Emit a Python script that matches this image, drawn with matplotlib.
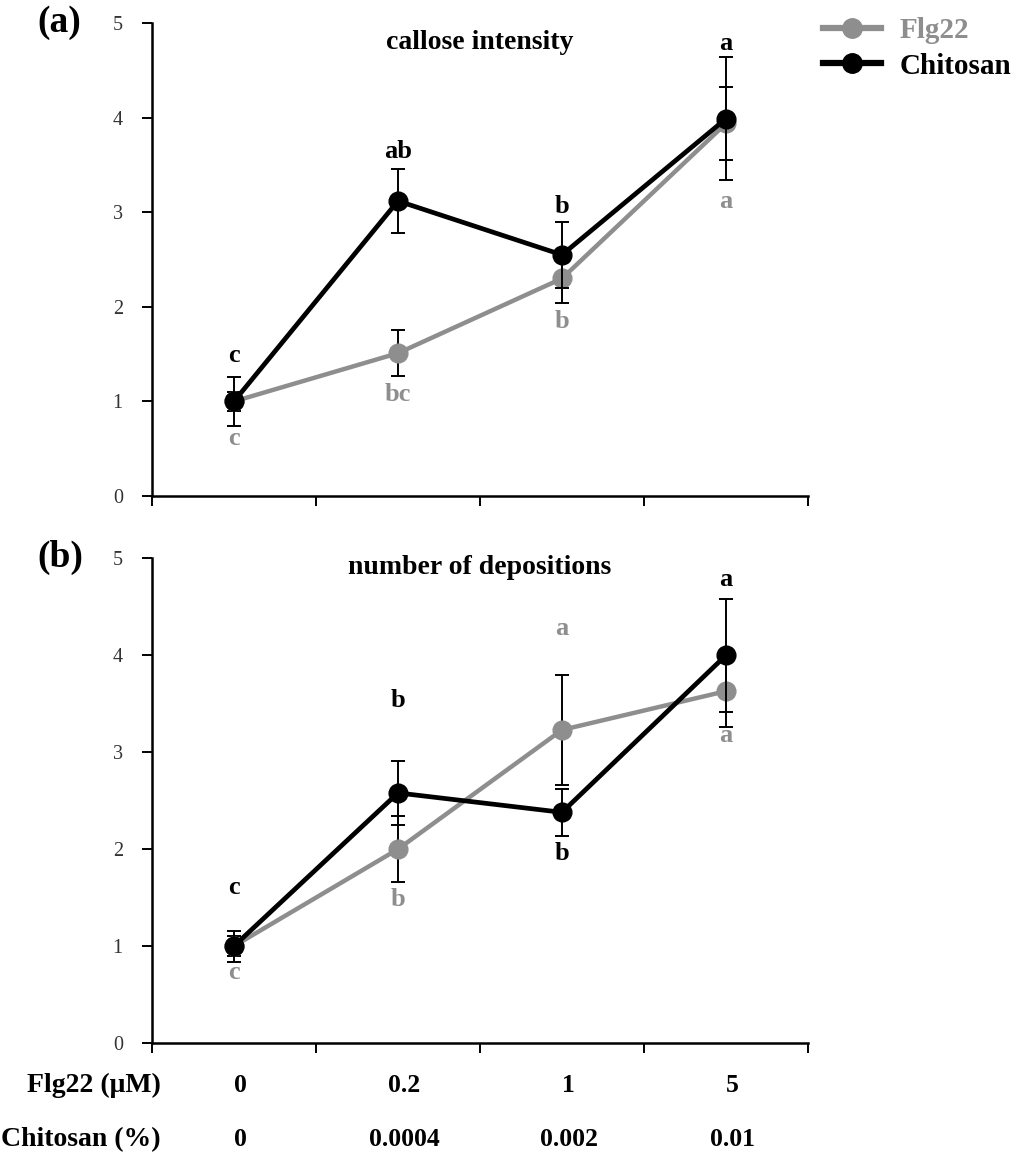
import matplotlib
matplotlib.use("Agg")

import matplotlib.pyplot as plt
from matplotlib.lines import Line2D
from matplotlib.transforms import blended_transform_factory

plt.rcParams["font.family"] = ["Liberation Serif", "DejaVu Serif"]

# doses on the x axis
flg22_dose = ["0", "0.2", "1", "5"]
chitosan_dose = ["0", "0.0004", "0.002", "0.01"]

# (a) callose intensity, relative to control
int_flg22 = [1.0, 1.51, 2.30, 3.94]
int_flg22_err = [0.10, 0.24, 0.26, 0.39]
int_chit = [1.0, 3.12, 2.55, 3.99]
int_chit_err = [0.26, 0.34, 0.35, 0.65]

# (b) number of depositions, relative to control
dep_flg22 = [1.0, 2.0, 3.23, 3.63]
dep_flg22_err = [0.10, 0.34, 0.57, 0.37]
dep_chit = [1.0, 2.58, 2.38, 4.0]
dep_chit_err = [0.16, 0.33, 0.24, 0.58]

# significance letters and the height they sit at
int_chit_letters = ["c", "ab", "b", "a"]
int_chit_letter_y = [1.49, 3.64, 3.06, 4.79]
int_flg22_letters = ["c", "bc", "b", "a"]
int_flg22_letter_y = [0.61, 1.07, 1.84, 3.11]

dep_chit_letters = ["c", "b", "b", "a"]
dep_chit_letter_y = [1.60, 3.53, 1.96, 4.78]
dep_flg22_letters = ["c", "b", "a", "a"]
dep_flg22_letter_y = [0.73, 1.48, 4.28, 3.17]

GRAY = "#8e8e8e"
BLACK = "#000000"

fig = plt.figure(
    figsize=(10.29, 11.73),
    dpi=100
)

ax_a = fig.add_axes([0.1477, 0.5772, 0.6375, 0.403])
ax_b = fig.add_axes([0.1477, 0.1108, 0.6375, 0.4132])

x = list(range(len(flg22_dose)))


def draw_panel(ax, fy, fe, cy, ce, title, title_y,
               c_letters, c_ly, f_letters, f_ly):
    ax.errorbar(
        x, fy, yerr=fe,
        color=GRAY, lw=3.2, marker="o", ms=13.5,
        ecolor=BLACK, elinewidth=1.4, capsize=5, capthick=1.4,
        zorder=2
    )
    ax.errorbar(
        x, cy, yerr=ce,
        color=BLACK, lw=3.4, marker="o", ms=13.5,
        ecolor=BLACK, elinewidth=1.4, capsize=5, capthick=1.4,
        zorder=3
    )

    for i in x:
        ax.text(i, c_ly[i], c_letters[i], color=BLACK,
                ha="center", va="center",
                fontsize=19, fontweight="bold")
        ax.text(i, f_ly[i], f_letters[i], color=GRAY,
                ha="center", va="center",
                fontsize=19, fontweight="bold")

    ax.text(0.5, title_y, title, transform=ax.transAxes,
            ha="center", va="center",
            fontsize=20, fontweight="bold")

    ax.set_xlim(-0.5, 3.5)
    ax.set_ylim(0, 5)
    ax.set_xticks([-0.5, 0.5, 1.5, 2.5, 3.5])
    ax.set_xticklabels([])
    ax.set_yticks([0, 1, 2, 3, 4, 5])
    ax.tick_params(axis="both", direction="out", length=7, width=1.4,
                   labelsize=14.5, labelcolor="#333333", pad=14)
    ax.spines["top"].set_visible(False)
    ax.spines["right"].set_visible(False)
    ax.spines["left"].set_linewidth(1.8)
    ax.spines["bottom"].set_linewidth(1.8)


draw_panel(ax_a, int_flg22, int_flg22_err, int_chit, int_chit_err,
           "callose intensity", 0.96,
           int_chit_letters, int_chit_letter_y,
           int_flg22_letters, int_flg22_letter_y)

draw_panel(ax_b, dep_flg22, dep_flg22_err, dep_chit, dep_chit_err,
           "number of depositions", 0.982,
           dep_chit_letters, dep_chit_letter_y,
           dep_flg22_letters, dep_flg22_letter_y)

# panel labels
fig.text(0.036, 0.981, "(a)", fontsize=27, fontweight="bold",
         ha="left", va="center")
fig.text(0.036, 0.525, "(b)", fontsize=27, fontweight="bold",
         ha="left", va="center")

# legend
handles = [
    Line2D([], [], color=GRAY, lw=4.5, marker="o", ms=14),
    Line2D([], [], color=BLACK, lw=4.5, marker="o", ms=14),
]
leg = fig.legend(
    handles, ["Flg22", "Chitosan"],
    loc="upper left", bbox_to_anchor=(0.774, 1.008),
    frameon=False, handlelength=2.0, handletextpad=0.65,
    labelspacing=0.3,
    prop={"family": "Liberation Serif", "weight": "bold", "size": 21}
)
leg.get_texts()[0].set_color(GRAY)
leg.get_texts()[1].set_color(BLACK)

# dose rows under panel (b)
trans = blended_transform_factory(ax_b.transData, fig.transFigure)
row_y = [1 - 1085 / 1173, 1 - 1140 / 1173]

fig.text(0.156, row_y[0], "Flg22 (\u03bcM)", ha="right", va="center",
         fontsize=20, fontweight="bold")
fig.text(0.156, row_y[1], "Chitosan (%)", ha="right", va="center",
         fontsize=20, fontweight="bold")

for i in x:
    ax_b.text(i + 0.04, row_y[0], flg22_dose[i], transform=trans,
              ha="center", va="center", fontsize=18.5, fontweight="bold")
    ax_b.text(i + 0.04, row_y[1], chitosan_dose[i], transform=trans,
              ha="center", va="center", fontsize=18.5, fontweight="bold")

fig.savefig("out.png", dpi=100)
